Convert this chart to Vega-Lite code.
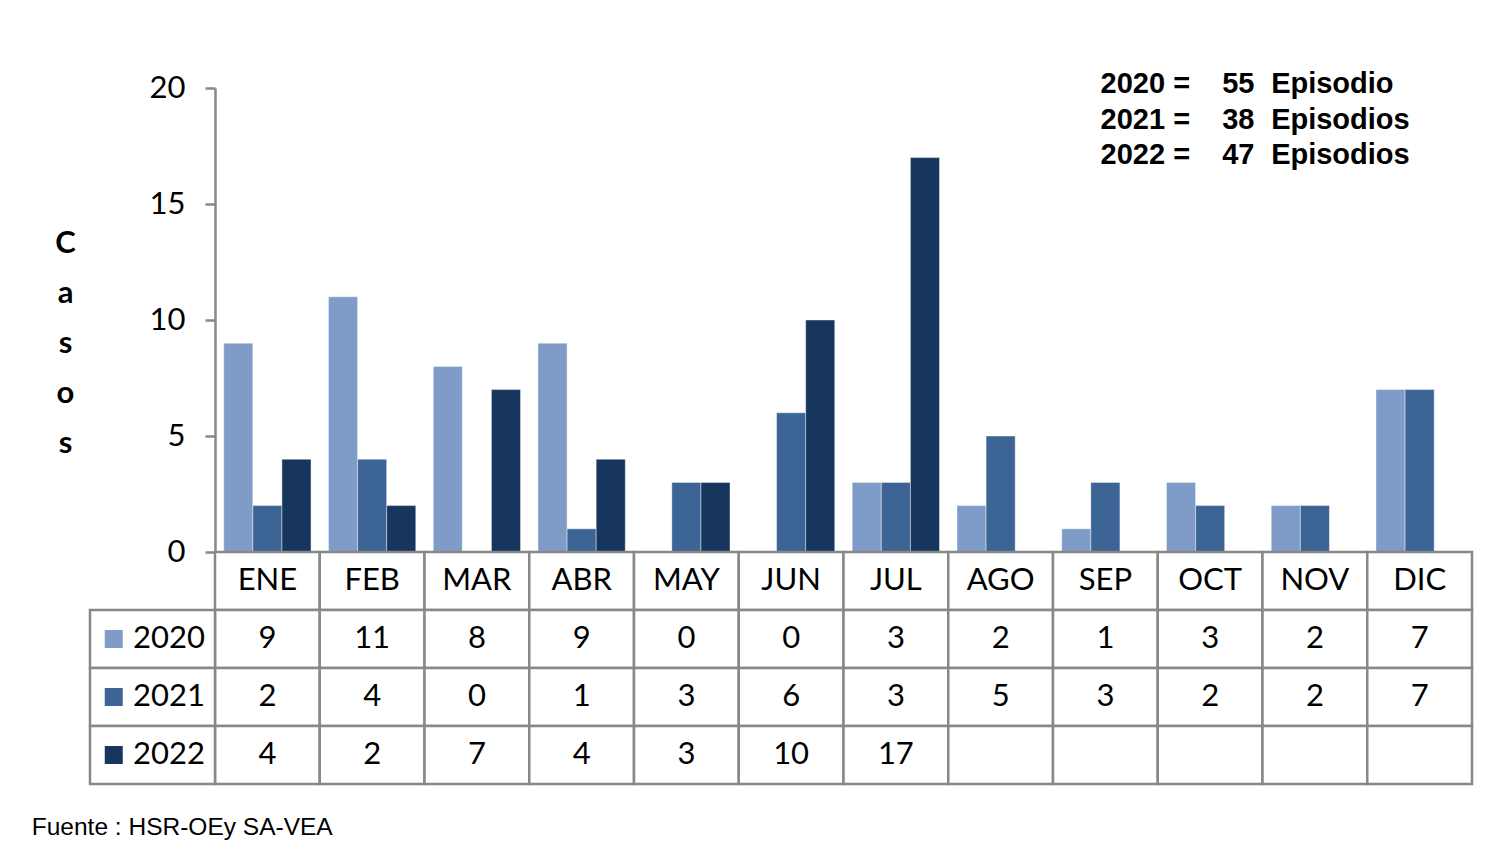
{
  "$schema": "https://vega.github.io/schema/vega-lite/v6.json",
  "background": "white",
  "padding": {"left": 31, "top": 70, "right": 10, "bottom": 10},
  "config": {"view": {"stroke": null}, "font": "Lato"},
  "title": {"text": "Fuente : HSR-OEy SA-VEA", "orient": "bottom", "anchor": "start", "font": "Liberation Sans", "fontSize": 24.5, "fontWeight": "normal", "color": "#000000", "offset": 31, "dx": -23, "baseline": "top"},
  "bounds": "flush",
  "spacing": 0,
  "datasets": {
    "d": [
      {"mes": "ENE", "anio": "2020", "casos": 9}, {"mes": "FEB", "anio": "2020", "casos": 11}, {"mes": "MAR", "anio": "2020", "casos": 8}, {"mes": "ABR", "anio": "2020", "casos": 9},
      {"mes": "MAY", "anio": "2020", "casos": 0}, {"mes": "JUN", "anio": "2020", "casos": 0}, {"mes": "JUL", "anio": "2020", "casos": 3}, {"mes": "AGO", "anio": "2020", "casos": 2},
      {"mes": "SEP", "anio": "2020", "casos": 1}, {"mes": "OCT", "anio": "2020", "casos": 3}, {"mes": "NOV", "anio": "2020", "casos": 2}, {"mes": "DIC", "anio": "2020", "casos": 7},
      {"mes": "ENE", "anio": "2021", "casos": 2}, {"mes": "FEB", "anio": "2021", "casos": 4}, {"mes": "MAR", "anio": "2021", "casos": 0}, {"mes": "ABR", "anio": "2021", "casos": 1},
      {"mes": "MAY", "anio": "2021", "casos": 3}, {"mes": "JUN", "anio": "2021", "casos": 6}, {"mes": "JUL", "anio": "2021", "casos": 3}, {"mes": "AGO", "anio": "2021", "casos": 5},
      {"mes": "SEP", "anio": "2021", "casos": 3}, {"mes": "OCT", "anio": "2021", "casos": 2}, {"mes": "NOV", "anio": "2021", "casos": 2}, {"mes": "DIC", "anio": "2021", "casos": 7},
      {"mes": "ENE", "anio": "2022", "casos": 4}, {"mes": "FEB", "anio": "2022", "casos": 2}, {"mes": "MAR", "anio": "2022", "casos": 7}, {"mes": "ABR", "anio": "2022", "casos": 4},
      {"mes": "MAY", "anio": "2022", "casos": 3}, {"mes": "JUN", "anio": "2022", "casos": 10}, {"mes": "JUL", "anio": "2022", "casos": 17}, {"mes": "AGO", "anio": "2022", "casos": null},
      {"mes": "SEP", "anio": "2022", "casos": null}, {"mes": "OCT", "anio": "2022", "casos": null}, {"mes": "NOV", "anio": "2022", "casos": null}, {"mes": "DIC", "anio": "2022", "casos": null}
    ],
    "tot": [
      {"lab": "2020 =", "n": "55", "u": "Episodio"},
      {"lab": "2021 =", "n": "38", "u": "Episodios"},
      {"lab": "2022 =", "n": "47", "u": "Episodios"}
    ]
  },
  "vconcat": [
    {
      "width": 1382,
      "height": 464,
      "layer": [
        {
          "data": {"name": "d"},
          "transform": [{"filter": "datum.casos > 0"}],
          "mark": {"type": "bar", "stroke": "#ffffff", "strokeWidth": 0.7, "strokeOpacity": 0.6},
          "encoding": {
            "x": {"field": "mes", "type": "nominal", "sort": null, "scale": {"domain": ["ENE","FEB","MAR","ABR","MAY","JUN","JUL","AGO","SEP","OCT","NOV","DIC"], "range": [125, 1382], "paddingInner": 0, "paddingOuter": 0}, "axis": null},
            "xOffset": {"field": "anio", "type": "nominal", "scale": {"domain": ["2020","2021","2022"], "paddingInner": 0, "paddingOuter": 0.3}},
            "y": {"field": "casos", "type": "quantitative", "scale": {"domain": [0, 20], "nice": false},
              "axis": {"values": [0, 5, 10, 15, 20], "offset": -125, "grid": false, "domainColor": "#888888", "domainWidth": 2.5, "tickColor": "#888888", "tickWidth": 2.5, "tickSize": 10, "labelFont": "Lato", "labelFontSize": 31, "labelColor": "#000000", "labelPadding": 20,
                "title": ["C", "a", "s", "o", "s"], "titleAngle": 0, "titleFont": "Lato", "titleFontSize": 31, "titleFontWeight": "bold", "titleColor": "#000000", "titleX": -150, "titleY": 164, "titleAlign": "center", "titleBaseline": "alphabetic", "titleLineHeight": 50}},
            "color": {"field": "anio", "type": "nominal", "scale": {"domain": ["2020","2021","2022"], "range": ["#7f9cc9", "#3c6495", "#17365d"]}, "legend": null}
          }
        },
        {
          "data": {"name": "tot"},
          "encoding": {
            "x": {"datum": "OCT", "type": "nominal"},
            "y": {"field": "lab", "type": "ordinal", "sort": null, "scale": {"type": "point", "domain": ["2020 =", "2021 =", "2022 ="], "range": [-4, 67], "padding": 0}, "axis": null}
          },
          "layer": [
            {"mark": {"type": "text", "align": "right", "baseline": "middle", "dx": -20, "font": "Liberation Sans", "fontWeight": "bold", "fontSize": 29, "color": "#000000"}, "encoding": {"text": {"field": "lab"}}},
            {"mark": {"type": "text", "align": "left", "baseline": "middle", "dx": 12, "font": "Liberation Sans", "fontWeight": "bold", "fontSize": 29, "color": "#000000"}, "encoding": {"text": {"field": "n"}}},
            {"mark": {"type": "text", "align": "left", "baseline": "middle", "dx": 61, "font": "Liberation Sans", "fontWeight": "bold", "fontSize": 29, "color": "#000000"}, "encoding": {"text": {"field": "u"}}}
          ]
        }
      ],
      "resolve": {"scale": {"y": "independent"}}
    },
    {
      "width": 1382,
      "height": 232,
      "layer": [
        {
          "data": {"name": "d"},
          "layer": [
            {
              "transform": [{"filter": "datum.anio == '2020'"}],
              "mark": {"type": "rect", "fill": "#ffffff", "stroke": "#888888", "strokeWidth": 2.5},
              "encoding": {
                "x": {"field": "mes", "type": "nominal", "sort": null, "scale": {"domain": ["ENE","FEB","MAR","ABR","MAY","JUN","JUL","AGO","SEP","OCT","NOV","DIC"], "range": [125, 1382], "paddingInner": 0, "paddingOuter": 0}, "axis": null},
                "y": {"datum": "MES", "type": "nominal", "scale": {"domain": ["MES","2020","2021","2022"], "paddingInner": 0, "paddingOuter": 0}, "axis": null}
              }
            },
            {
              "transform": [{"filter": "datum.anio == '2020'"}],
              "mark": {"type": "text", "font": "Lato", "fontSize": 31, "color": "#000000", "baseline": "middle"},
              "encoding": {
                "x": {"field": "mes", "type": "nominal", "sort": null, "axis": null},
                "y": {"datum": "MES", "type": "nominal", "axis": null},
                "text": {"field": "mes"}
              }
            },
            {
              "mark": {"type": "rect", "fill": "#ffffff", "stroke": "#888888", "strokeWidth": 2.5},
              "encoding": {
                "x": {"field": "mes", "type": "nominal", "sort": null, "axis": null},
                "y": {"field": "anio", "type": "nominal", "axis": null}
              }
            },
            {
              "transform": [{"filter": "isValid(datum.casos)"}],
              "mark": {"type": "text", "font": "Lato", "fontSize": 31, "color": "#000000", "baseline": "middle"},
              "encoding": {
                "x": {"field": "mes", "type": "nominal", "sort": null, "axis": null},
                "y": {"field": "anio", "type": "nominal", "axis": null},
                "text": {"field": "casos", "type": "quantitative"}
              }
            }
          ]
        },
        {
          "data": {"name": "d"},
          "transform": [{"filter": "datum.mes == 'ENE'"}],
          "layer": [
            {
              "mark": {"type": "rect", "fill": "#ffffff", "stroke": "#888888", "strokeWidth": 2.5},
              "encoding": {
                "x": {"datum": "L", "type": "nominal", "scale": {"domain": ["L"], "range": [0, 125], "paddingInner": 0, "paddingOuter": 0}, "axis": null},
                "y": {"field": "anio", "type": "nominal", "axis": null}
              }
            },
            {
              "mark": {"type": "square", "size": 324, "filled": true, "opacity": 1},
              "encoding": {
                "x": {"datum": "L", "type": "nominal", "bandPosition": 0.19, "axis": null},
                "y": {"field": "anio", "type": "nominal", "axis": null},
                "color": {"field": "anio", "type": "nominal", "legend": null}
              }
            },
            {
              "mark": {"type": "text", "font": "Lato", "fontSize": 31, "color": "#000000", "baseline": "middle", "align": "left"},
              "encoding": {
                "x": {"datum": "L", "type": "nominal", "bandPosition": 0.344, "axis": null},
                "y": {"field": "anio", "type": "nominal", "axis": null},
                "text": {"field": "anio"}
              }
            }
          ]
        }
      ],
      "resolve": {"scale": {"x": "independent"}}
    }
  ]
}
